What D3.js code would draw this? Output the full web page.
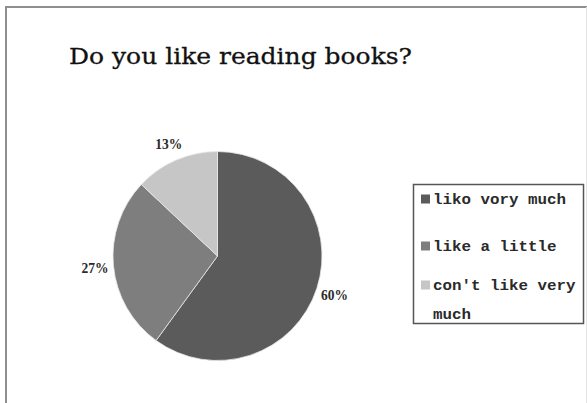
<!DOCTYPE html>
<html>
<head>
<meta charset="utf-8">
<script src="https://cdn.jsdelivr.net/npm/d3@7"></script>
<style>
  html, body { margin: 0; padding: 0; background: #fff; }
  svg { display: block; }
</style>
</head>
<body>
<svg id="chart" width="587" height="403"></svg>
<script>
const title = "Do you like reading books?";
const categories = ["liko vory much", "like a little", "con't like very much"];
const legendLines = [["liko vory much"], ["like a little"], ["con't like very", "much"]];
const values = [60, 27, 13];
const labels = ["60%", "27%", "13%"];
const colors = ["#5b5b5b", "#7e7e7e", "#c6c6c6"];

const svg = d3.select("#chart");

// outer frame
svg.append("path")
  .attr("d", "M6,403 L6,7 L587,7")
  .attr("fill", "none")
  .attr("stroke", "#8f8f8f")
  .attr("stroke-width", 2);
svg.append("line")
  .attr("x1", 586.5).attr("x2", 586.5).attr("y1", 7).attr("y2", 403)
  .attr("stroke", "#e4e4e4").attr("stroke-width", 1);

// title
svg.append("text")
  .attr("x", 69).attr("y", 64)
  .attr("font-family", "'DejaVu Serif', 'Liberation Serif', serif")
  .attr("font-size", 23)
  .attr("fill", "#111")
  .attr("stroke", "#111")
  .attr("stroke-width", 0.3)
  .attr("textLength", 343)
  .attr("lengthAdjust", "spacingAndGlyphs")
  .text(title);

// pie
const cx = 217.5, cy = 256, r = 104.5;
const pie = d3.pie().sort(null).value(d => d)(values);
const arc = d3.arc().innerRadius(0).outerRadius(r);
const labelArc = d3.arc().innerRadius(123).outerRadius(123);
const g = svg.append("g").attr("transform", `translate(${cx},${cy})`);
g.selectAll("path.slice").data(pie).join("path")
  .attr("class", "slice")
  .attr("d", arc)
  .attr("fill", (d, i) => colors[i])
  .attr("stroke", "#e8e8e8")
  .attr("stroke-width", 0.8);

g.selectAll("text.lbl").data(pie).join("text")
  .attr("class", "lbl")
  .attr("transform", d => `translate(${labelArc.centroid(d)})`)
  .attr("text-anchor", "middle")
  .attr("dy", "0.4em")
  .attr("font-family", "'Liberation Serif', serif")
  .attr("font-size", 14)
  .attr("font-weight", "bold")
  .attr("fill", "#2a2a2a")
  .attr("textLength", 27)
  .attr("lengthAdjust", "spacingAndGlyphs")
  .text((d, i) => labels[i]);

// legend
const lg = svg.append("g");
lg.append("rect")
  .attr("x", 413.5).attr("y", 184.5).attr("width", 170).attr("height", 139)
  .attr("fill", "#fff").attr("stroke", "#555").attr("stroke-width", 1.5);
const rowY = [199, 246, 285];
categories.forEach((c, i) => {
  const y = rowY[i];
  lg.append("rect")
    .attr("x", 421).attr("y", y - 4.5).attr("width", 9).attr("height", 9)
    .attr("fill", colors[i]);
  legendLines[i].forEach((line, j) => {
    lg.append("text")
      .attr("x", 433).attr("y", y + 5 + j * 29)
      .attr("font-family", "'Liberation Mono', 'DejaVu Sans Mono', monospace")
      .attr("font-size", 15)
      .attr("font-weight", "bold")
      .attr("fill", "#2a2a2a")
      .attr("textLength", line.length * 9.5)
      .attr("lengthAdjust", "spacingAndGlyphs")
      .text(line);
  });
});
</script>
</body>
</html>
